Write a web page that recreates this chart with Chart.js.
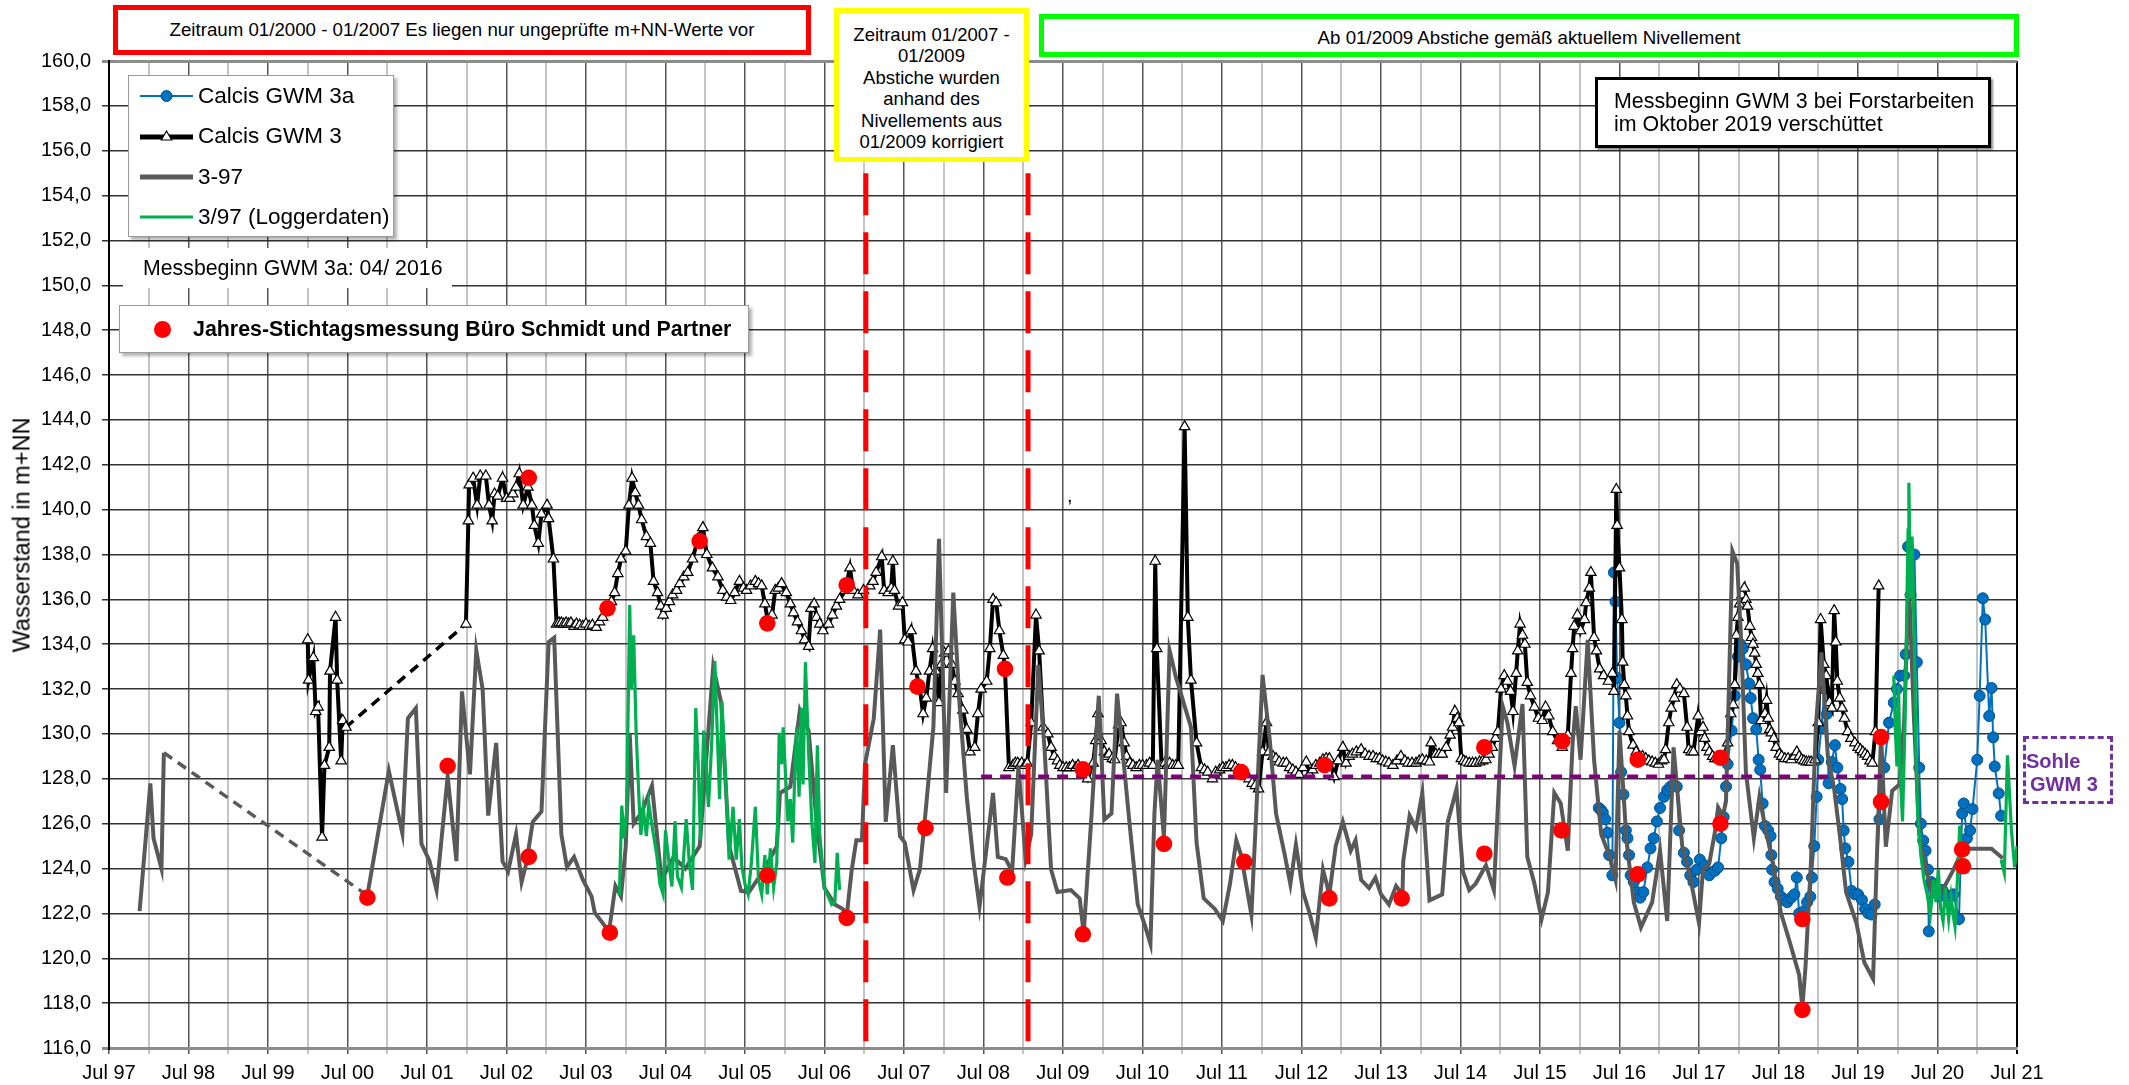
<!DOCTYPE html>
<html><head><meta charset="utf-8">
<script src="https://cdn.jsdelivr.net/npm/chart.js@4.4.1/dist/chart.umd.min.js"></script>
<style>
html,body{margin:0;padding:0;background:#fff;}
#wrap{position:relative;width:2129px;height:1085px;overflow:hidden;font-family:"Liberation Sans",Arial,sans-serif;color:#000;}
#c{position:absolute;left:0;top:0;}
.box{position:absolute;box-sizing:border-box;background:#fff;}
.row{position:absolute;left:0;height:26px;display:flex;align-items:center;white-space:nowrap;font-size:22.5px;}
.row svg{margin-left:11px;margin-right:5px;}
</style></head><body>
<div id="wrap">
<canvas id="c" width="2129" height="1085"></canvas>

<div class="box" style="left:113px;top:5px;width:698px;height:50px;border:5px solid #ff0000;font-size:18.7px;display:flex;align-items:center;justify-content:center;white-space:nowrap;">Zeitraum 01/2000 - 01/2007 Es liegen nur ungeprüfte m+NN-Werte vor</div>

<div class="box" style="left:834px;top:8px;width:195px;height:154px;border:5px solid #ffff00;font-size:18.5px;line-height:21.4px;text-align:center;padding-top:11px;white-space:nowrap;">Zeitraum 01/2007 -<br>01/2009<br>Abstiche wurden<br>anhand des<br>Nivellements aus<br>01/2009 korrigiert</div>

<div class="box" style="left:1039px;top:14px;width:980px;height:43px;border:5px solid #00ff00;font-size:18.7px;display:flex;align-items:center;justify-content:center;padding-top:4px;white-space:nowrap;">Ab 01/2009 Abstiche gemäß aktuellem Nivellement</div>

<div class="box" style="left:1595px;top:77px;width:396px;height:71px;border:3px solid #000;box-shadow:2px 2px 2px rgba(0,0,0,0.45);font-size:21.4px;line-height:23px;padding:10px 0 0 16px;white-space:nowrap;">Messbeginn GWM 3 bei Forstarbeiten<br>im Oktober 2019 verschüttet</div>

<div class="box" style="left:128px;top:75px;width:266px;height:162px;border:1px solid #9a9a9a;box-shadow:3px 3px 3px rgba(0,0,0,0.3);">
  <div class="row" style="top:7px;"><svg width="53" height="16"><line x1="0" y1="8" x2="53" y2="8" stroke="#0070C0" stroke-width="2"/><circle cx="26.5" cy="8" r="5.5" fill="#0070C0" stroke="#00508a" stroke-width="1"/></svg>Calcis GWM 3a</div>
  <div class="row" style="top:47px;"><svg width="53" height="16"><line x1="0" y1="9" x2="53" y2="9" stroke="#000" stroke-width="5"/><polygon points="26.5,3 31.7,12 21.3,12" fill="#fff" stroke="#000" stroke-width="1.2"/></svg>Calcis GWM 3</div>
  <div class="row" style="top:88px;"><svg width="53" height="16"><line x1="0" y1="8" x2="53" y2="8" stroke="#595959" stroke-width="5"/></svg>3-97</div>
  <div class="row" style="top:128px;"><svg width="53" height="16"><line x1="0" y1="8" x2="53" y2="8" stroke="#00B050" stroke-width="3"/></svg>3/97 (Loggerdaten)</div>
</div>

<div class="box" style="left:123px;top:248px;width:329px;height:40px;font-size:21.3px;line-height:40px;padding-left:20px;white-space:nowrap;">Messbeginn GWM 3a: 04/ 2016</div>

<div class="box" style="left:119px;top:305px;width:630px;height:48px;border:1px solid #9a9a9a;box-shadow:3px 3px 3px rgba(0,0,0,0.3);">
  <div style="position:absolute;left:34px;top:15px;width:17px;height:17px;border-radius:50%;background:#ff0000;"></div>
  <div style="position:absolute;left:73px;top:0;line-height:46px;font-size:21.4px;font-weight:bold;white-space:nowrap;">Jahres-Stichtagsmessung Büro Schmidt und Partner</div>
</div>

<div class="box" style="left:2023px;top:736px;width:90px;height:68px;border:3px dashed #7030A0;background:transparent;color:#7030A0;font-size:20px;font-weight:bold;">
  <div style="position:absolute;left:0;top:11px;line-height:23px;">Sohle</div>
  <div style="position:absolute;left:4px;top:34px;line-height:23px;white-space:nowrap;">GWM 3</div>
</div>

<div style="position:absolute;left:1067px;top:484px;font-size:20px;">,</div>

<div style="position:absolute;left:22px;top:535px;transform:translate(-50%,-50%) rotate(-90deg);font-size:23.5px;white-space:nowrap;">Wasserstand in m+NN</div>
</div>

<script>
// ---- data (decimal year, m+NN) ----
const gwm3Early = [[2000.0,134.2],[2000.01,132.4],[2000.07,133.4],[2000.10,131.0],[2000.13,131.2],[2000.18,125.4],[2000.21,128.6],[2000.27,129.4],[2000.28,132.8],[2000.35,135.2],[2000.37,132.4],[2000.42,128.8],[2000.44,130.6],[2000.48,130.3]];
const gwm3Gap = [[2000.48,130.3],[2001.99,134.9]];
const gwm3 = [[2001.99,134.9],[2002.02,139.5],[2002.03,141.1],[2002.08,141.4],[2002.13,140.2],[2002.17,141.5],[2002.24,141.5],[2002.28,140.2],[2002.32,139.5],[2002.35,140.7],[2002.39,140.6],[2002.45,141.4],[2002.5,140.5],[2002.54,140.5],[2002.58,140.7],[2002.62,141.0],[2002.66,141.6],[2002.71,140.2],[2002.77,141.0],[2002.82,140.2],[2002.85,139.3],[2002.9,138.5],[2002.94,139.8],[2003.01,140.2],[2003.03,139.6],[2003.09,137.8],[2003.13,134.9],[2003.16,134.95],[2003.19,134.95],[2003.22,134.9],[2003.25,134.95],[2003.28,134.9],[2003.31,134.95],[2003.35,134.8],[2003.38,134.9],[2003.42,134.85],[2003.46,134.8],[2003.5,134.9],[2003.54,134.8],[2003.58,134.85],[2003.63,134.75],[2003.67,135.0],[2003.71,135.2],[2003.77,135.6],[2003.82,135.9],[2003.86,136.3],[2003.9,137.15],[2003.94,137.8],[2004.0,138.15],[2004.04,140.2],[2004.08,141.4],[2004.12,140.75],[2004.16,140.2],[2004.2,139.55],[2004.26,138.8],[2004.31,138.5],[2004.35,136.8],[2004.4,136.3],[2004.44,135.7],[2004.47,135.3],[2004.51,135.6],[2004.55,135.9],[2004.59,136.2],[2004.64,136.4],[2004.68,136.7],[2004.73,137.0],[2004.78,137.2],[2004.84,137.8],[2004.91,138.7],[2004.97,139.2],[2005.02,138.0],[2005.09,137.4],[2005.16,137.0],[2005.22,136.4],[2005.27,136.1],[2005.32,135.95],[2005.37,136.3],[2005.43,136.8],[2005.48,136.5],[2005.52,136.4],[2005.57,136.6],[2005.63,136.8],[2005.67,136.7],[2005.71,136.6],[2005.75,135.8],[2005.79,135.0],[2005.84,135.3],[2005.88,136.4],[2005.92,136.5],[2005.96,136.7],[2006.02,136.3],[2006.07,135.8],[2006.11,135.4],[2006.16,135.0],[2006.21,134.6],[2006.25,134.2],[2006.3,133.9],[2006.33,135.6],[2006.37,135.8],[2006.4,135.2],[2006.44,134.9],[2006.48,134.6],[2006.55,134.9],[2006.6,135.3],[2006.65,135.7],[2006.69,136.0],[2006.76,136.4],[2006.82,137.4],[2006.86,136.4],[2006.92,136.2],[2006.99,136.4],[2007.07,136.6],[2007.11,136.8],[2007.15,137.2],[2007.22,137.9],[2007.25,136.4],[2007.3,136.3],[2007.34,136.5],[2007.36,137.7],[2007.38,136.4],[2007.43,135.7],[2007.48,135.85],[2007.51,134.2],[2007.55,134.1],[2007.59,134.6],[2007.65,132.8],[2007.7,132.0],[2007.74,130.9],[2007.78,131.6],[2007.82,132.8],[2007.86,133.8],[2007.9,132.8],[2007.94,131.4],[2007.97,133.1],[2008.01,133.6],[2008.06,133.7],[2008.1,133.1],[2008.14,132.35],[2008.18,131.8],[2008.24,131.06],[2008.29,130.2],[2008.33,129.2],[2008.39,129.4],[2008.43,130.9],[2008.47,132.0],[2008.54,132.35],[2008.58,133.8],[2008.62,136.0],[2008.66,135.85],[2008.7,134.6],[2008.75,133.5],[2008.77,132.9],[2008.82,128.5],[2008.87,128.6],[2008.9,128.7],[2008.93,128.7],[2008.96,128.6],[2008.98,128.7],[2009.02,128.6],[2009.05,128.7],[2009.1,130.5],[2009.16,135.3],[2009.2,133.7],[2009.25,130.3],[2009.31,130.0],[2009.35,129.4],[2009.39,129.0],[2009.43,128.8],[2009.46,128.6],[2009.5,128.5],[2009.54,128.5],[2009.58,128.5],[2009.62,128.6],[2009.66,128.5],[2009.69,128.6],[2009.75,128.4],[2009.81,128.0],[2009.88,128.7],[2009.91,129.7],[2009.94,130.9],[2009.98,129.7],[2010.02,129.2],[2010.05,129.0],[2010.08,129.1],[2010.12,128.9],[2010.15,128.85],[2010.2,130.4],[2010.23,130.5],[2010.27,129.6],[2010.3,129.0],[2010.34,128.7],[2010.38,128.6],[2010.42,128.5],[2010.46,128.6],[2010.5,128.6],[2010.55,128.6],[2010.59,128.7],[2010.63,128.6],[2010.66,137.7],[2010.68,133.8],[2010.74,128.6],[2010.78,128.7],[2010.81,128.6],[2010.84,128.7],[2010.88,128.6],[2010.92,128.6],[2010.95,128.6],[2011.03,143.7],[2011.07,135.2],[2011.11,132.4],[2011.18,129.6],[2011.24,128.5],[2011.28,128.4],[2011.32,128.3],[2011.38,128.0],[2011.42,128.3],[2011.47,128.4],[2011.51,128.5],[2011.55,128.5],[2011.59,128.6],[2011.63,128.6],[2011.67,128.5],[2011.71,128.4],[2011.76,128.3],[2011.8,128.2],[2011.84,128.0],[2011.88,127.8],[2011.92,127.7],[2011.96,127.55],[2012.01,129.2],[2012.06,130.5],[2012.09,129.2],[2012.14,129.0],[2012.18,128.9],[2012.22,128.75],[2012.27,128.7],[2012.31,128.7],[2012.35,128.5],[2012.39,128.4],[2012.43,128.3],[2012.47,128.2],[2012.52,128.5],[2012.56,128.75],[2012.6,128.2],[2012.64,128.4],[2012.68,128.6],[2012.73,128.7],[2012.77,128.85],[2012.81,128.9],[2012.85,128.9],[2012.91,128.1],[2012.96,128.8],[2013.02,129.4],[2013.06,128.7],[2013.1,129.0],[2013.14,129.1],[2013.19,129.2],[2013.25,129.3],[2013.3,129.1],[2013.35,129.0],[2013.4,129.0],[2013.44,128.9],[2013.48,128.9],[2013.52,128.8],[2013.56,128.75],[2013.6,128.7],[2013.65,128.6],[2013.7,128.8],[2013.75,129.0],[2013.8,128.8],[2013.84,128.7],[2013.89,128.7],[2013.94,128.7],[2013.98,128.8],[2014.02,128.85],[2014.07,128.8],[2014.11,128.75],[2014.13,129.6],[2014.19,129.1],[2014.23,129.1],[2014.27,129.1],[2014.32,129.4],[2014.37,129.95],[2014.4,130.3],[2014.43,131.0],[2014.46,130.7],[2014.48,130.5],[2014.51,128.9],[2014.54,128.8],[2014.57,128.75],[2014.61,128.7],[2014.65,128.7],[2014.69,128.7],[2014.74,128.75],[2014.78,128.8],[2014.82,128.85],[2014.86,129.1],[2014.9,129.4],[2014.94,129.8],[2014.97,130.1],[2015.01,132.0],[2015.05,132.6],[2015.09,132.35],[2015.13,131.9],[2015.16,131.0],[2015.2,132.7],[2015.22,133.7],[2015.25,134.9],[2015.28,134.4],[2015.31,134.0],[2015.34,132.3],[2015.38,131.7],[2015.43,131.2],[2015.48,130.7],[2015.53,130.6],[2015.57,131.2],[2015.61,130.8],[2015.66,130.1],[2015.72,129.7],[2015.78,129.4],[2015.85,129.95],[2015.89,132.7],[2015.91,133.8],[2015.93,134.8],[2015.97,135.3],[2016.01,134.6],[2016.06,135.1],[2016.08,135.85],[2016.12,136.5],[2016.14,137.2],[2016.18,134.3],[2016.21,133.7],[2016.25,132.9],[2016.3,132.6],[2016.36,132.35],[2016.41,132.7],[2016.43,131.9],[2016.46,140.9],[2016.47,139.3],[2016.5,137.4],[2016.53,135.1],[2016.54,133.2],[2016.56,132.2],[2016.58,131.7],[2016.6,130.8],[2016.62,130.1],[2016.67,129.5],[2016.71,129.2],[2016.75,129.0],[2016.79,129.0],[2016.83,128.9],[2016.87,128.8],[2016.91,128.75],[2016.95,128.7],[2016.99,128.65],[2017.03,128.8],[2017.06,128.85],[2017.08,129.3],[2017.12,130.5],[2017.15,131.15],[2017.19,131.6],[2017.22,132.2],[2017.26,132.0],[2017.31,131.8],[2017.35,130.3],[2017.37,129.3],[2017.4,129.2],[2017.43,129.2],[2017.49,130.8],[2017.52,130.1],[2017.55,130.3],[2017.57,129.8],[2017.6,129.4],[2017.63,129.2],[2017.67,129.0],[2017.7,128.9],[2017.73,128.9],[2017.76,128.85],[2017.79,128.9],[2017.82,129.0],[2017.86,129.6],[2017.9,130.9],[2017.93,131.3],[2017.95,132.2],[2017.97,134.4],[2017.99,135.2],[2018.01,135.8],[2018.04,136.2],[2018.07,136.5],[2018.09,136.0],[2018.11,135.7],[2018.14,134.8],[2018.16,134.3],[2018.18,134.0],[2018.2,133.6],[2018.22,133.1],[2018.24,132.7],[2018.26,132.2],[2018.28,130.6],[2018.33,130.9],[2018.35,131.5],[2018.37,130.7],[2018.39,130.2],[2018.41,130.05],[2018.44,129.8],[2018.47,129.4],[2018.51,129.1],[2018.54,129.0],[2018.58,128.9],[2018.62,128.9],[2018.66,128.85],[2018.7,129.0],[2018.73,129.2],[2018.76,129.0],[2018.79,128.85],[2018.82,128.8],[2018.85,128.75],[2018.88,128.75],[2018.91,128.75],[2018.96,128.85],[2019.0,130.5],[2019.03,135.1],[2019.07,133.1],[2019.1,132.6],[2019.14,131.4],[2019.17,131.15],[2019.2,135.5],[2019.22,134.1],[2019.24,132.35],[2019.27,131.6],[2019.3,131.15],[2019.33,130.7],[2019.37,130.1],[2019.41,129.8],[2019.46,129.6],[2019.5,129.4],[2019.53,129.3],[2019.56,129.2],[2019.59,129.1],[2019.62,129.0],[2019.65,128.8],[2019.68,128.7],[2019.72,130.1],[2019.76,136.6]];

const gwm3a = [[2016.24,126.7],[2016.27,126.6],[2016.29,126.5],[2016.32,126.2],[2016.35,125.6],[2016.37,124.6],[2016.41,123.7],[2016.43,137.2],[2016.45,135.9],[2016.47,132.5],[2016.5,130.5],[2016.52,128.3],[2016.55,127.3],[2016.58,125.7],[2016.6,125.35],[2016.62,124.6],[2016.64,123.7],[2016.68,123.4],[2016.72,122.95],[2016.76,122.7],[2016.8,122.95],[2016.85,124.05],[2016.89,124.9],[2016.93,125.35],[2016.97,126.1],[2017.01,126.7],[2017.06,127.2],[2017.1,127.5],[2017.14,127.65],[2017.18,127.75],[2017.22,127.65],[2017.25,125.7],[2017.31,124.7],[2017.35,124.3],[2017.39,123.7],[2017.43,123.4],[2017.47,123.95],[2017.51,124.4],[2017.57,124.15],[2017.63,123.7],[2017.7,123.9],[2017.74,124.05],[2017.78,125.35],[2017.81,126.3],[2017.84,127.65],[2017.86,128.65],[2017.91,130.15],[2017.95,131.7],[2017.99,133.45],[2018.02,134.0],[2018.05,133.8],[2018.09,133.1],[2018.13,132.25],[2018.15,131.6],[2018.18,130.7],[2018.22,130.2],[2018.25,128.85],[2018.27,128.4],[2018.3,126.9],[2018.33,125.9],[2018.37,125.7],[2018.4,125.45],[2018.41,124.6],[2018.42,123.95],[2018.45,123.4],[2018.49,123.1],[2018.53,122.75],[2018.57,122.6],[2018.61,122.5],[2018.66,122.7],[2018.7,122.85],[2018.73,123.6],[2018.76,122.0],[2018.82,122.1],[2018.86,122.5],[2018.9,122.75],[2018.92,123.6],[2018.95,125.0],[2018.98,127.2],[2019.0,128.85],[2019.04,130.3],[2019.08,132.0],[2019.11,130.9],[2019.13,127.8],[2019.17,128.75],[2019.21,129.5],[2019.24,128.5],[2019.28,127.55],[2019.3,127.1],[2019.32,125.7],[2019.34,124.9],[2019.38,124.3],[2019.42,123.0],[2019.46,122.85],[2019.5,122.85],[2019.55,122.6],[2019.59,122.2],[2019.63,122.0],[2019.67,121.95],[2019.71,122.4],[2019.77,126.2],[2019.83,128.5],[2019.89,130.5],[2019.95,131.4],[2019.99,132.0],[2020.03,132.6],[2020.08,132.6],[2020.1,133.55],[2020.13,138.35],[2020.16,136.2],[2020.21,138.0],[2020.24,133.2],[2020.27,128.5],[2020.29,126.0],[2020.32,125.25],[2020.35,124.8],[2020.38,123.95],[2020.39,121.2],[2020.42,123.4],[2020.45,123.3],[2020.48,123.1],[2020.52,122.75],[2020.56,123.05],[2020.6,122.85],[2020.66,122.75],[2020.7,122.85],[2020.77,121.75],[2020.81,126.45],[2020.83,126.9],[2020.87,125.35],[2020.91,125.7],[2020.94,126.65],[2021.0,128.85],[2021.03,131.7],[2021.07,136.05],[2021.1,135.1],[2021.15,130.8],[2021.18,132.05],[2021.2,129.85],[2021.22,128.55],[2021.27,127.35],[2021.3,126.35]];

const gw397Early = [[1997.885,122.1],[1998.02,127.8],[1998.06,125.35],[1998.16,124.0],[1998.19,129.16]];
const gw397Gap = [[1998.19,129.16],[2000.75,122.8]];
const gw397 = [[2000.75,122.8],[2001.02,128.35],[2001.19,125.57],[2001.26,130.7],[2001.36,131.15],[2001.43,125.1],[2001.53,124.35],[2001.62,123.04],[2001.76,128.1],[2001.87,124.33],[2001.94,131.9],[2002.04,128.2],[2002.12,133.73],[2002.2,131.98],[2002.27,126.36],[2002.37,129.6],[2002.45,124.33],[2002.52,123.87],[2002.62,125.53],[2002.69,123.4],[2002.75,124.24],[2002.83,126.08],[2002.94,126.54],[2003.03,134.1],[2003.1,134.29],[2003.19,125.53],[2003.26,124.06],[2003.35,124.52],[2003.46,123.5],[2003.57,122.76],[2003.61,122.03],[2003.79,121.2],[2003.87,123.23],[2003.94,122.76],[2004.0,125.0],[2004.05,130.0],[2004.1,126.0],[2004.2,126.5],[2004.33,127.7],[2004.45,123.5],[2004.6,124.5],[2004.75,124.0],[2004.93,125.0],[2005.1,133.0],[2005.2,131.4],[2005.3,125.0],[2005.45,123.0],[2005.55,122.95],[2005.75,124.0],[2005.9,125.0],[2005.94,127.37],[2006.07,127.65],[2006.19,131.06],[2006.3,130.14],[2006.4,126.08],[2006.5,123.13],[2006.63,122.4],[2006.73,122.2],[2006.78,121.9],[2006.84,123.87],[2006.9,125.26],[2006.97,125.26],[2007.01,128.66],[2007.07,129.77],[2007.12,130.7],[2007.2,134.65],[2007.27,126.08],[2007.36,129.5],[2007.45,125.44],[2007.51,125.16],[2007.62,123.04],[2007.7,123.96],[2007.76,126.08],[2007.87,130.32],[2007.94,138.7],[2008.03,127.37],[2008.12,136.3],[2008.2,131.25],[2008.29,127.18],[2008.37,124.42],[2008.45,122.3],[2008.54,124.97],[2008.62,127.37],[2008.68,124.52],[2008.78,124.42],[2008.86,123.87],[2008.94,128.57],[2009.03,124.42],[2009.1,125.53],[2009.19,133.08],[2009.27,129.22],[2009.35,123.96],[2009.43,122.95],[2009.6,123.04],[2009.71,122.67],[2009.76,121.1],[2009.86,126.45],[2009.95,131.7],[2010.02,126.18],[2010.11,126.45],[2010.18,131.8],[2010.25,129.22],[2010.34,125.9],[2010.44,122.4],[2010.53,121.47],[2010.6,120.65],[2010.65,126.45],[2010.69,128.85],[2010.77,125.35],[2010.84,133.73],[2010.92,132.53],[2011.0,131.6],[2011.11,130.3],[2011.18,125.16],[2011.27,122.67],[2011.41,122.2],[2011.51,121.66],[2011.6,123.3],[2011.68,125.26],[2011.74,124.6],[2011.87,121.94],[2011.93,126.45],[2012.01,132.63],[2012.1,129.77],[2012.18,126.45],[2012.29,124.6],[2012.36,123.3],[2012.43,125.07],[2012.52,122.95],[2012.6,122.03],[2012.68,120.92],[2012.77,123.96],[2012.85,122.85],[2012.93,125.0],[2013.02,126.08],[2013.12,124.8],[2013.18,125.26],[2013.25,123.5],[2013.35,123.13],[2013.43,123.59],[2013.5,122.85],[2013.6,122.4],[2013.69,123.22],[2013.77,122.85],[2013.78,124.33],[2013.86,126.36],[2013.94,125.8],[2014.02,127.37],[2014.11,122.58],[2014.27,122.85],[2014.34,126.08],[2014.45,127.55],[2014.53,123.87],[2014.61,123.04],[2014.69,123.32],[2014.82,124.15],[2014.92,123.04],[2015.03,131.24],[2015.09,130.5],[2015.18,128.57],[2015.28,131.33],[2015.34,124.52],[2015.43,123.32],[2015.52,121.75],[2015.6,122.95],[2015.68,127.37],[2015.76,126.91],[2015.85,124.8],[2015.91,129.58],[2015.95,131.24],[2016.01,128.85],[2016.1,134.19],[2016.18,128.85],[2016.27,125.53],[2016.37,124.6],[2016.45,123.5],[2016.5,130.14],[2016.59,125.16],[2016.68,122.49],[2016.77,121.38],[2016.91,122.49],[2017.01,124.8],[2017.1,121.66],[2017.18,129.4],[2017.29,124.98],[2017.38,123.78],[2017.5,121.57],[2017.55,123.96],[2017.63,124.24],[2017.7,125.62],[2017.74,126.73],[2017.8,126.36],[2017.84,127.0],[2017.92,138.15],[2017.98,137.6],[2018.03,134.19],[2018.09,128.3],[2018.19,125.35],[2018.26,127.2],[2018.34,125.7],[2018.43,124.24],[2018.53,122.03],[2018.64,120.74],[2018.76,119.26],[2018.8,117.8],[2018.84,119.63],[2018.91,124.42],[2018.97,130.32],[2019.04,133.64],[2019.12,129.03],[2019.2,127.55],[2019.27,125.53],[2019.35,122.95],[2019.48,121.57],[2019.58,119.81],[2019.69,119.08],[2019.73,123.69],[2019.79,129.95],[2019.85,124.97],[2019.93,127.47],[2020.02,127.74],[2020.08,130.5],[2020.14,136.87],[2020.2,131.0],[2020.27,125.53],[2020.35,124.06],[2020.44,122.76],[2020.55,122.95],[2020.69,123.87],[2020.81,124.79],[2020.89,124.88],[2021.18,124.88],[2021.32,124.46]];

const logger0306 = [[2003.92,122.8],[2003.95,126.8],[2003.98,125.35],[2004.01,126.45],[2004.05,135.75],[2004.07,132.0],[2004.1,134.4],[2004.13,130.15],[2004.17,126.8],[2004.19,125.5],[2004.22,126.7],[2004.26,125.45],[2004.29,126.9],[2004.34,125.7],[2004.39,124.6],[2004.43,123.3],[2004.47,122.85],[2004.5,125.7],[2004.55,124.05],[2004.58,123.2],[2004.62,126.1],[2004.65,123.65],[2004.7,123.15],[2004.73,124.6],[2004.76,126.2],[2004.8,124.25],[2004.84,123.05],[2004.88,131.15],[2004.91,128.85],[2004.94,125.25],[2004.98,130.15],[2005.01,128.65],[2005.04,126.75],[2005.08,129.5],[2005.12,133.25],[2005.16,129.2],[2005.18,127.1],[2005.21,131.45],[2005.26,127.75],[2005.3,124.4],[2005.35,126.75],[2005.39,124.4],[2005.43,126.2],[2005.46,124.1],[2005.5,123.3],[2005.54,122.85],[2005.58,124.25],[2005.63,126.75],[2005.67,123.5],[2005.71,122.85],[2005.75,124.6],[2005.78,122.85],[2005.82,124.9],[2005.86,123.15],[2005.9,124.25],[2005.93,130.05],[2005.96,128.65],[2005.98,130.3],[2006.02,127.45],[2006.04,126.1],[2006.07,127.1],[2006.1,125.15],[2006.13,128.65],[2006.15,130.3],[2006.18,127.2],[2006.21,131.15],[2006.23,127.75],[2006.26,133.2],[2006.3,129.2],[2006.34,126.1],[2006.38,124.25],[2006.41,129.5],[2006.44,125.55],[2006.5,123.15],[2006.59,122.4],[2006.63,122.5],[2006.66,124.7],[2006.69,123.05]];
const logger2020 = [[2019.95,132.6],[2019.97,130.15],[2019.99,128.55],[2020.01,132.15],[2020.03,128.3],[2020.06,126.1],[2020.09,130.3],[2020.13,139.1],[2020.14,141.2],[2020.16,136.05],[2020.18,138.8],[2020.21,133.8],[2020.23,129.05],[2020.25,126.45],[2020.29,124.6],[2020.33,123.5],[2020.37,122.85],[2020.41,121.95],[2020.45,123.5],[2020.48,122.5],[2020.51,123.95],[2020.54,122.2],[2020.57,121.65],[2020.6,123.15],[2020.64,121.75],[2020.67,122.75],[2020.7,121.85],[2020.72,121.4],[2020.75,123.5],[2020.78,125.9],[2020.8,124.05]];
const logger2021 = [[2021.3,124.4],[2021.34,123.8],[2021.38,129.05],[2021.43,125.7],[2021.47,124.05],[2021.5,125.0]];

const stichtag = [[2000.75,122.7],[2001.76,128.57],[2002.78,141.42],[2002.78,124.52],[2003.77,135.6],[2003.8,121.14],[2004.93,138.6],[2005.78,134.93],[2005.78,123.69],[2006.78,136.63],[2006.78,121.8],[2007.67,132.11],[2007.77,125.8],[2008.77,132.9],[2008.8,123.6],[2009.75,128.42],[2009.75,121.07],[2010.77,125.1],[2011.74,128.3],[2011.78,124.3],[2012.79,128.61],[2012.85,122.67],[2013.76,122.67],[2014.8,129.4],[2014.8,124.66],[2015.78,129.68],[2015.77,125.7],[2016.73,128.85],[2016.73,123.74],[2017.77,128.94],[2017.77,126.0],[2018.8,121.75],[2018.8,117.7],[2019.79,129.86],[2019.79,126.97],[2020.81,124.85],[2020.82,124.1]];

const sohleGWM3 = [[2008.47,128.1],[2019.8,128.1]];
const grenze2007 = [[2007.02,155.0],[2007.02,116.0]];
const grenze2009 = [[2009.06,155.0],[2009.06,116.0]];

const xMin = 1997.5, xMax = 2021.5, xStep = 0.5;
const yMin = 116, yMax = 160, yStep = 2;
const xTickMonth = 'Jul';

// ---- chart ----
const pts = a => a.map(([x, y]) => ({x, y}));
const FONT = '"Liberation Sans", Arial, sans-serif';
const half = v => Math.round(v * 2) / 2;

const lineDs = (label, data, color, width, order, extra) => Object.assign({
  label, data: pts(data), borderColor: color, backgroundColor: color, borderWidth: width,
  pointRadius: 0, fill: false, tension: 0, order
}, extra || {});

const gwm3Style = {pointStyle: 'triangle', pointRadius: 6, pointBackgroundColor: '#ffffff', pointBorderColor: '#000000', pointBorderWidth: 1.2};

const datasets = [
  lineDs('Grenze 01/2007', grenze2007, '#ff0000', 5, 0, {borderDash: [42, 17], borderCapStyle: 'butt'}),
  lineDs('Grenze 01/2009', grenze2009, '#ff0000', 5, 0, {borderDash: [42, 17], borderCapStyle: 'butt'}),
  lineDs('Jahres-Stichtagsmessung Büro Schmidt und Partner', stichtag, '#ff0000', 0, 1,
    {showLine: false, pointRadius: 8.3, pointBackgroundColor: '#ff0000', pointBorderColor: '#ff0000', pointBorderWidth: 0}),
  lineDs('Sohle GWM 3', sohleGWM3, '#800080', 4, 2, {borderDash: [11, 8], borderCapStyle: 'butt'}),
  lineDs('3/97 (Loggerdaten)', logger0306, '#00B050', 3.2, 3),
  lineDs('3/97 (Loggerdaten) 2020', logger2020, '#00B050', 3.2, 3),
  lineDs('3/97 (Loggerdaten) 2021', logger2021, '#00B050', 3.2, 3),
  lineDs('3-97', gw397, '#595959', 4, 4),
  lineDs('3-97 1998', gw397Early, '#595959', 4, 4),
  lineDs('3-97 Lücke', gw397Gap, '#595959', 3.5, 4, {borderDash: [10, 7]}),
  lineDs('Calcis GWM 3', gwm3, '#000000', 4, 5, gwm3Style),
  lineDs('Calcis GWM 3 2000', gwm3Early, '#000000', 4, 5, gwm3Style),
  lineDs('Calcis GWM 3 Lücke', gwm3Gap, '#000000', 3.5, 5, {borderDash: [10, 7]}),
  lineDs('Calcis GWM 3a', gwm3a, '#0070C0', 2, 6,
    {pointRadius: 5.5, pointBackgroundColor: '#0070C0', pointBorderColor: '#00508a', pointBorderWidth: 1})
];

new Chart(document.getElementById('c'), {
  type: 'line',
  data: {datasets},
  options: {
    responsive: false, animation: false, devicePixelRatio: 1, events: [],
    layout: {padding: {top: 61, right: 112, left: 0, bottom: 0}},
    plugins: {legend: {display: false}, tooltip: {enabled: false}, title: {display: false}},
    scales: {
      x: {
        type: 'linear', min: xMin, max: xMax,
        afterFit(s) { s.height = 37; },
        border: {display: true, color: '#8c8c8c', width: 3},
        grid: {
          color: c => { if (!c.tick) return '#c4c4c4'; const v = half(c.tick.value); if (Math.abs(v - xMax) < 0.01) return '#000000'; return (Math.abs(v % 1 - 0.5) < 0.01) ? '#555555' : '#c4c4c4'; },
          lineWidth: c => { if (!c.tick) return 1.5; const v = half(c.tick.value); if (Math.abs(v - xMax) < 0.01) return 2; return (Math.abs(v % 1 - 0.5) < 0.01) ? 1.5 : 2; },
          tickLength: 6, drawTicks: true
        },
        ticks: {
          stepSize: xStep, autoSkip: false, maxRotation: 0, minRotation: 0, padding: 7, color: '#000',
          font: {family: FONT, size: 20},
          callback: v => { const r = half(v); return (Math.abs(r % 1 - 0.5) < 0.01) ? xTickMonth + ' ' + String(Math.floor(r)).slice(2) : ''; }
        }
      },
      y: {
        type: 'linear', min: yMin, max: yMax,
        afterFit(s) { s.width = 109; },
        border: {display: true, color: '#000000', width: 2},
        grid: {
          color: c => (c.tick && (c.tick.value === yMax || c.tick.value === yMin)) ? '#8c8c8c' : '#333333',
          lineWidth: c => (c.tick && (c.tick.value === yMax || c.tick.value === yMin)) ? 3 : 1.5,
          tickLength: 7
        },
        ticks: {
          stepSize: yStep, padding: 11, color: '#000', font: {family: FONT, size: 20},
          callback: v => v.toFixed(1).replace('.', ',')
        }
      }
    }
  }
});
</script>
</body></html>
